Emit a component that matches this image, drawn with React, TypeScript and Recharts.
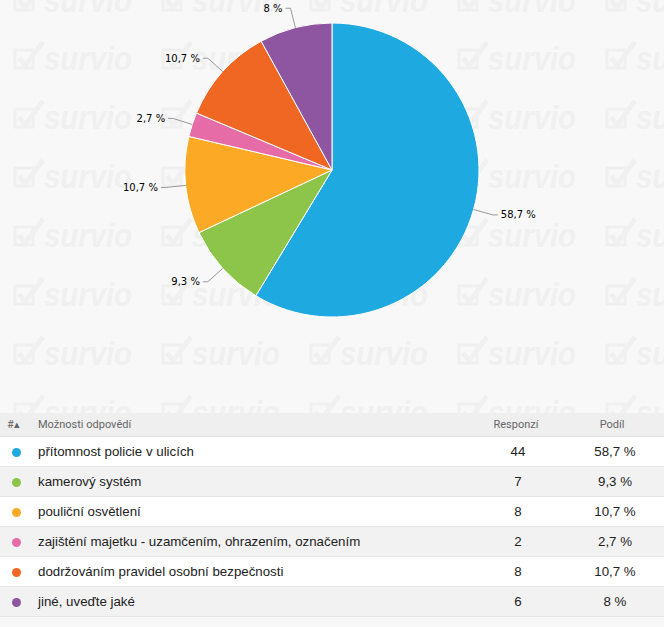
import { Pie, PieChart, Cell } from "recharts";

const answers = [
  "přítomnost policie v ulicích",
  "kamerový systém",
  "pouliční osvětlení",
  "zajištění majetku - uzamčením, ohrazením, označením",
  "dodržováním pravidel osobní bezpečnosti",
  "jiné, uveďte jaké",
];
const responses = [44, 7, 8, 2, 8, 6];
const shares = ["58,7 %", "9,3 %", "10,7 %", "2,7 %", "10,7 %", "8 %"];
const colors = ["#1fa9e1", "#8cc54a", "#fcaa26", "#e66ca8", "#f06724", "#8e55a1"];

const data = answers.map((name, i) => ({ name, value: responses[i], share: shares[i] }));

const RADIAN = Math.PI / 180;

function renderLabel(props: any) {
  const { cx, cy, midAngle, outerRadius, index } = props;
  const cos = Math.cos(-midAngle * RADIAN);
  const sin = Math.sin(-midAngle * RADIAN);
  const sx = cx + outerRadius * cos;
  const sy = cy + outerRadius * sin;
  const ax = cx + (outerRadius + 20) * cos;
  const ay = cy + (outerRadius + 20) * sin;
  const dir = cos >= 0 ? 1 : -1;
  const ex = ax + dir * 5;
  return (
    <g>
      <path d={`M${sx},${sy} L${ax},${ay} L${ex},${ay}`} stroke="#999" strokeWidth={1} fill="none" />
      <text
        x={ex + dir * 3}
        y={ay}
        dy={3.5}
        textAnchor={dir > 0 ? "start" : "end"}
        fontFamily="DejaVu Sans, Verdana, sans-serif"
        fontSize={10}
        fill="#000"
      >
        {data[index].share}
      </text>
    </g>
  );
}

// faint "survio" background pattern
function Watermark() {
  const cols = [14, 162, 310, 458, 606];
  const rows = [12, 70, 129, 188, 247, 306, 365, 424];
  const c = "#f0f0f0";
  return (
    <svg width={664} height={413} style={{ position: "absolute", left: 0, top: 0 }}>
      {rows.map((y) =>
        cols.map((x) => (
          <g key={`${x}-${y}`} fill="none" stroke={c}>
            <rect x={x + 1} y={y - 20} width={18} height={18} strokeWidth={3} />
            <path d={`M${x + 5},${y - 12} L${x + 11},${y - 4} L${x + 29},${y - 28}`} strokeWidth={5} />
            <text
              x={x + 30}
              y={y}
              textLength={88}
              lengthAdjust="spacingAndGlyphs"
              fontFamily="Liberation Sans, Arial, sans-serif"
              fontStyle="italic"
              fontWeight="bold"
              fontSize={34}
              fill={c}
              stroke="none"
            >
              survio
            </text>
          </g>
        ))
      )}
    </svg>
  );
}

export default function App() {
  return (
    <div style={{ position: "absolute", left: 0, top: 0, width: 664, height: 627, background: "#f8f8f8" }}>
      <div style={{ position: "relative", width: 664, height: 413, overflow: "hidden" }}>
        <Watermark />
        <div style={{ position: "absolute", left: 0, top: 0 }}>
          <PieChart width={664} height={413} margin={{ top: 0, right: 0, bottom: 0, left: 0 }}>
            <Pie
              data={data}
              dataKey="value"
              cx={332}
              cy={170}
              outerRadius={147}
              startAngle={90}
              endAngle={-270}
              stroke="#fff"
              strokeWidth={1}
              label={renderLabel}
              labelLine={false}
              isAnimationActive={false}
            >
              {data.map((d, i) => (
                <Cell key={d.name} fill={colors[i]} />
              ))}
            </Pie>
          </PieChart>
        </div>
      </div>
      <div
        style={{
          height: 23,
          background: "#efefef",
          borderBottom: "1px solid #e2e2e2",
          fontFamily: "Roboto, Arial, sans-serif",
          fontSize: 11,
          color: "#666",
          position: "relative",
          display: "flex",
          alignItems: "center",
        }}
      >
        <span style={{ position: "absolute", left: 7 }}>#▴</span>
        <span style={{ position: "absolute", left: 38 }}>Možnosti odpovědí</span>
        <span style={{ position: "absolute", left: 476, width: 80, textAlign: "center" }}>Responzí</span>
        <span style={{ position: "absolute", left: 572, width: 80, textAlign: "center" }}>Podíl</span>
      </div>
      {data.map((d, i) => (
        <div
          key={d.name}
          style={{
            position: "relative",
            height: 29,
            background: i % 2 === 0 ? "#fff" : "#f2f2f2",
            borderBottom: "1px solid #e6e6e6",
            fontFamily: "Arial, Liberation Sans, sans-serif",
            fontSize: 13.3,
            color: "#222",
            display: "flex",
            alignItems: "center",
          }}
        >
          <span
            style={{
              position: "absolute",
              left: 12,
              top: 11,
              width: 9,
              height: 9,
              borderRadius: "50%",
              background: colors[i],
            }}
          />
          <span style={{ position: "absolute", left: 38 }}>{d.name}</span>
          <span style={{ position: "absolute", left: 478, width: 80, textAlign: "center" }}>{d.value}</span>
          <span style={{ position: "absolute", left: 575, width: 80, textAlign: "center" }}>{d.share}</span>
        </div>
      ))}
    </div>
  );
}
